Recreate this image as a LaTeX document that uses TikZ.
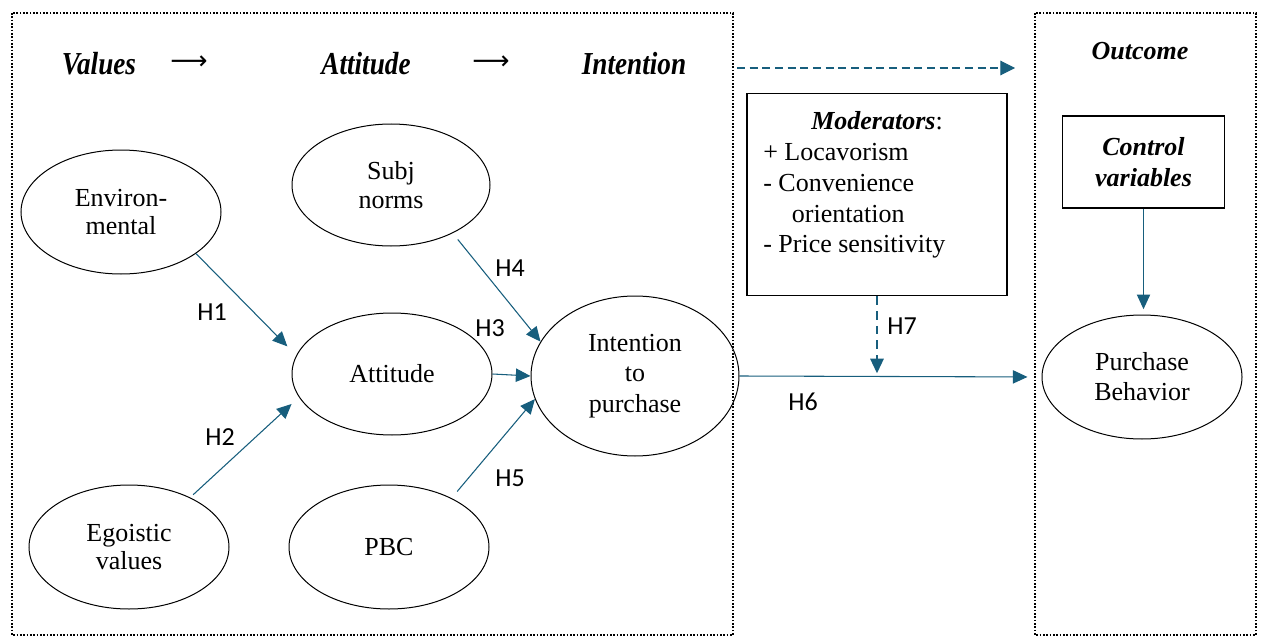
\documentclass[tikz,border=0pt]{standalone}
\usepackage{fontspec}
\setmainfont{Liberation Serif}
\newfontfamily\hfont{Carlito}
\newfontfamily\dvfont{DejaVu Sans}
\usetikzlibrary{shapes.geometric,arrows.meta,calc}
\definecolor{arr}{RGB}{23,94,125}
\begin{document}
\begin{tikzpicture}[x=0.75pt,y=-0.75pt,
  ell/.style={draw,ellipse,line width=0.75pt,inner sep=0pt,align=center,
    font=\fontsize{19.5}{21.5}\selectfont},
  dotbox/.style={line width=1.4pt,dash pattern=on 1.3pt off 1.2pt},
  rbox/.style={draw,line width=0.9pt,inner sep=0pt},
  hdr/.style={inner sep=0pt,font=\bfseries\itshape\fontsize{24}{26}\selectfont},
  harr/.style={inner sep=0pt,font=\dvfont\fontsize{19.5}{22}\selectfont},
  hlab/.style={inner sep=0pt,font=\hfont\fontsize{19.5}{22}\selectfont},
  conn/.style={draw=arr,line width=0.8pt,-{Triangle[length=11pt,width=10pt]}},
  dconn/.style={draw=arr,line width=0.8pt,dash pattern=on 6pt off 3.5pt,-{Triangle[length=11pt,width=11pt]}},
  mconn/.style={draw=arr,line width=1.5pt,dash pattern=on 6.5pt off 4.5pt,-{Triangle[length=11pt,width=10pt]}},
  txt/.style={inner sep=0pt,font=\fontsize{19.5}{22.9}\selectfont}
]
\useasboundingbox (0,0) rectangle (1264,642);
% dotted frames
\draw[dotbox] (12,13) rectangle (733,635);
\draw[dotbox] (1035,13) rectangle (1256,635);

% header
\node[hdr] (hv) at (99,64) {\scalebox{0.85}[1]{Values}};
\node[harr] (ha1) at (189,63) {⟶};
\node[hdr] (hat) at (366,64) {\scalebox{0.85}[1]{Attitude}};
\node[harr] (ha2) at (491,63) {⟶};
\node[hdr] (hin) at (634,64) {\scalebox{0.85}[1]{Intention}};
\node[inner sep=0pt,font=\bfseries\itshape\fontsize{19.5}{22}\selectfont] (hout) at (1140,51) {Outcome};

% ellipses
\node[ell,minimum width=150pt,minimum height=93pt] (env) at (121,212) {Environ-\\mental};
\node[ell,minimum width=148.5pt,minimum height=91.5pt] (subj) at (391,185) {Subj\\norms};
\node[ell,minimum width=150pt,minimum height=91.5pt] (att) at (392,374) {Attitude};
\node[ell,minimum width=156pt,minimum height=120pt,font=\fontsize{19.5}{22.9}\selectfont] (int) at (635,376) {Intention\\to\\purchase};
\node[ell,minimum width=150pt,minimum height=93pt] (ego) at (129,547) {Egoistic\\values};
\node[ell,minimum width=150pt,minimum height=93pt] (pbc) at (389,547) {PBC};
\node[ell,minimum width=150pt,minimum height=93pt,font=\fontsize{19.5}{22.5}\selectfont] (pb) at (1142,377) {Purchase\\Behavior};

% boxes
\node[rbox,minimum width=195pt,minimum height=152pt] (mod) at (877,194.5) {};
\node[txt] (modt) at (877,121) {\textbf{\textit{Moderators}}:};
\node[txt,anchor=north west,align=left] (modl) at (763,143.5) {+ Locavorism\\- Convenience\\\hspace*{1.1em}orientation\\- Price sensitivity};
\node[rbox,minimum width=122pt,minimum height=69pt,align=center,
  font=\bfseries\itshape\fontsize{19.5}{23}\selectfont] (ctrl) at (1143.5,162) {Control\\variables};

% connectors
\draw[conn,shorten >=9.5pt] (env.-29) -- (att.169);
\draw[conn,shorten <=3pt,shorten >=7.5pt] (ego.39) -- (att.194);
\draw[conn,shorten <=6pt] (subj.-38) -- (int.160);
\draw[conn] (att.east) -- (int.west);
\draw[conn,shorten <=6.5pt] (pbc.38) -- (int.193);
\draw[conn,shorten >=10.5pt] (int.east) -- (pb.west);
\coordinate (h7end) at (mod.south |- int.east);
\draw[mconn,shorten >=2pt] (mod.south) -- (h7end);
\draw[conn,shorten >=4pt] (ctrl.south) -- (ctrl.south |- pb.north);
\coordinate (ds) at (737,68);
\coordinate (de) at (1015,68);
\draw[dconn] (ds) -- (de);

% labels
\node[hlab] (l1) at (212,312) {H1};
\node[hlab] (l2) at (220,437) {H2};
\node[hlab] (l3) at (490,328) {H3};
\node[hlab] (l4) at (510,268) {H4};
\node[hlab] (l5) at (510,478) {H5};
\node[hlab] (l6) at (803,402) {H6};
\node[hlab] (l7) at (902,326) {H7};
\end{tikzpicture}
\end{document}
